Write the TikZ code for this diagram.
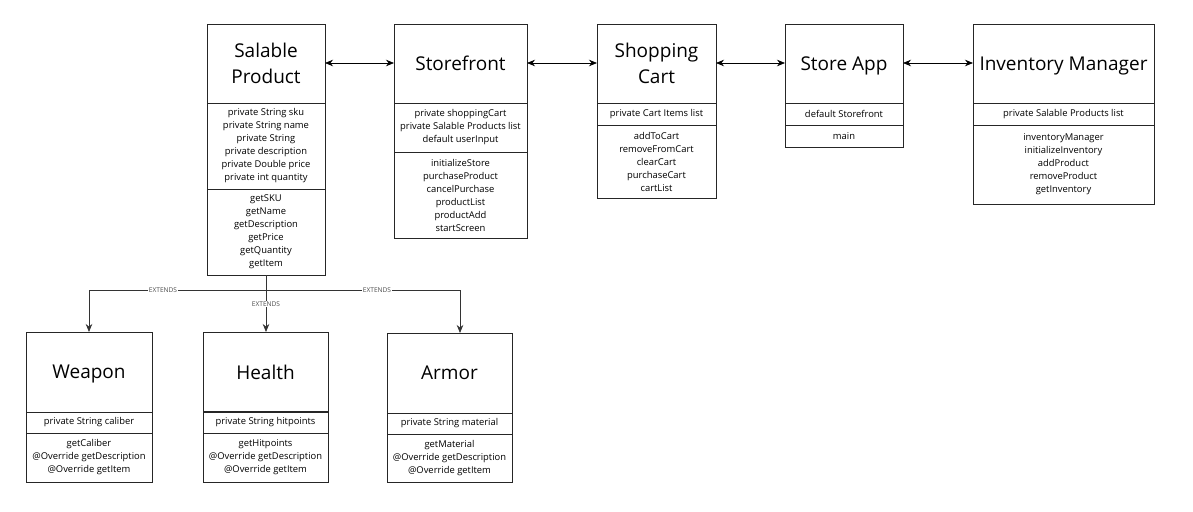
\documentclass[tikz,border=0pt]{standalone}
\usepackage{fontspec}
\setmainfont{Open Sans}
\usetikzlibrary{arrows.meta,calc}
\tikzset{
  cls/.style={draw=black!85, line width=0.8pt, inner sep=0pt, outer sep=0pt, align=center, text=black},
  ttl/.style={font=\fontsize{19}{26}\selectfont, text depth=-4pt},
  sml/.style={font=\fontsize{9.4}{13}\selectfont},
  link/.style={draw=black, line width=0.8pt, {Stealth[length=8pt,width=6.5pt]}-{Stealth[length=8pt,width=6.5pt]}},
  ext/.style={draw=black!80, line width=0.8pt, -{Stealth[length=8pt,width=6.5pt]}},
  extlabel/.style={fill=white, inner sep=0.8pt, text=black!70, font=\fontsize{6.6}{7}\selectfont}
}
\newcommand{\umlclass}[9]{%
  \node[cls,ttl,minimum width=#3pt,minimum height=#4pt,anchor=north west] (#1-t) at #2 {#7};
  \node[cls,sml,minimum width=#3pt,minimum height=#5pt,anchor=north west] (#1-a) at (#1-t.south west) {#8};
  \node[cls,sml,minimum width=#3pt,minimum height=#6pt,anchor=north west] (#1-m) at (#1-a.south west) {#9};
}
\begin{document}
\begin{tikzpicture}[x=1pt,y=-1pt]
\fill[white] (0,0) rectangle (1193,511);
\useasboundingbox (0,0) rectangle (1193,511);

\umlclass{sp}{(207,24)}{118}{79}{86}{86}{Salable\\Product}%
  {private String sku\\private String name\\private String\\private description\\private Double price\\private int quantity}%
  {getSKU\\getName\\getDescription\\getPrice\\getQuantity\\getItem}
\umlclass{sf}{(394,24)}{133}{79}{49}{86}{Storefront}%
  {private shoppingCart\\private Salable Products list\\default userInput}%
  {initializeStore\\purchaseProduct\\cancelPurchase\\productList\\productAdd\\startScreen}
\umlclass{sc}{(597,24)}{119}{79}{22}{73}{Shopping\\Cart}%
  {private Cart Items list}%
  {addToCart\\removeFromCart\\clearCart\\purchaseCart\\cartList}
\umlclass{sa}{(785,24)}{118}{79}{22}{22}{Store App}%
  {default Storefront}%
  {main}
\umlclass{im}{(973,24)}{181}{79}{22}{79}{Inventory Manager}%
  {private Salable Products list}%
  {inventoryManager\\initializeInventory\\addProduct\\removeProduct\\getInventory}

\umlclass{wp}{(26,332)}{126}{80}{21}{49}{Weapon}%
  {private String caliber}%
  {getCaliber\\@Override getDescription\\@Override getItem}
\umlclass{hl}{(203,332)}{125}{80}{21}{49}{Health}%
  {private String hitpoints}%
  {getHitpoints\\@Override getDescription\\@Override getItem}
\umlclass{ar}{(387,333)}{125}{80}{21}{48}{Armor}%
  {private String material}%
  {getMaterial\\@Override getDescription\\@Override getItem}
\draw[black!85, line width=1.6pt] (hl-t.south west) -- (hl-t.south east);

\draw[link] ([yshift=0.5pt]sp-t.east) -- ([yshift=0.5pt]sf-t.west);
\draw[link] ([yshift=0.5pt]sf-t.east) -- ([yshift=0.5pt]sc-t.west);
\draw[link] ([yshift=0.5pt]sc-t.east) -- ([yshift=0.5pt]sa-t.west);
\draw[link] ([yshift=0.5pt]sa-t.east) -- ([yshift=0.5pt]im-t.west);

\coordinate (j) at ($(sp-m.south)+(0,15)$);
\draw[ext] (sp-m.south) -- (j) -| (wp-t.north);
\draw[ext] (sp-m.south) -- (sp-m.south |- hl-t.north);
\draw[ext] (j) -| ([xshift=10.5pt]ar-t.north);
\node[extlabel] (l1) at (163,290) {EXTENDS};
\node[extlabel] (l2) at (266,304) {EXTENDS};
\node[extlabel] (l3) at (377,290) {EXTENDS};
\end{tikzpicture}
\end{document}
